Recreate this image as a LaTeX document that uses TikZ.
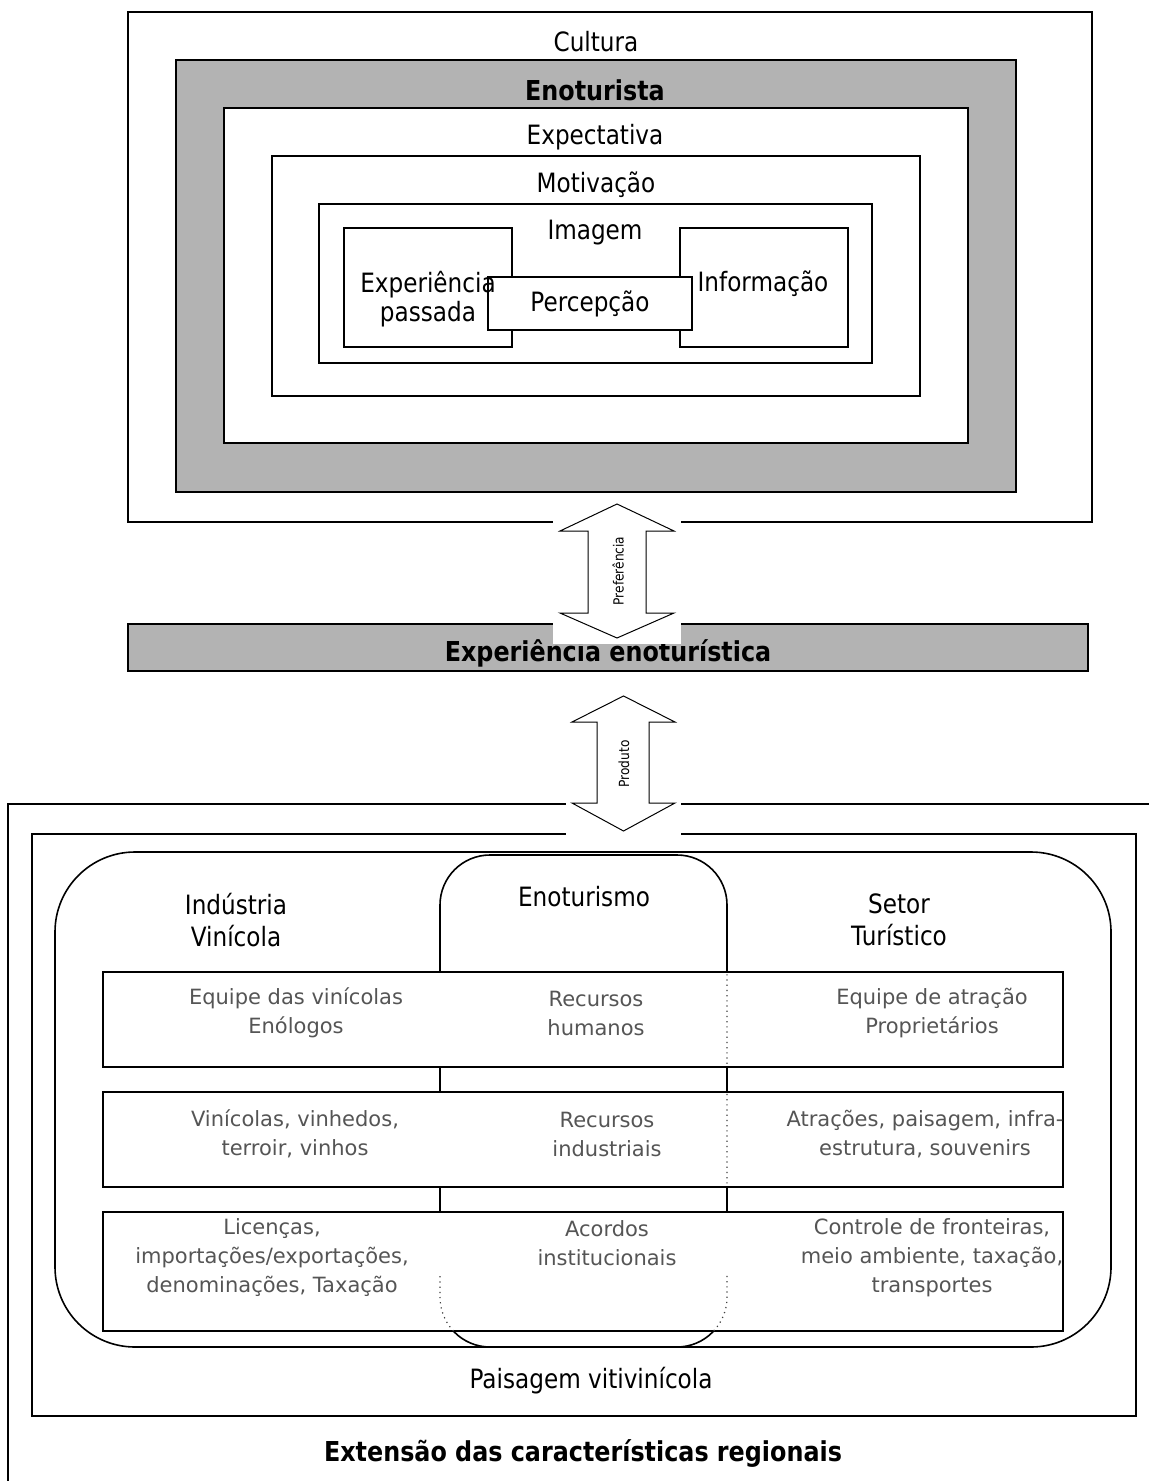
\documentclass[tikz,border=0pt]{standalone}
\usepackage{fontspec}
\setmainfont{DejaVu Sans}[FakeStretch=0.87]
\newfontfamily\rowfont{DejaVu Sans}
\usetikzlibrary{fit}
\definecolor{boxgray}{HTML}{B3B3B3}
\definecolor{rowtext}{HTML}{555555}
\tikzset{
 bx/.style={draw=black, line width=1pt, inner sep=0pt, outer sep=0pt},
 gbx/.style={bx, fill=boxgray},
 wbx/.style={bx, fill=white},
 rbx/.style={draw=black, line width=0.8pt, inner sep=0pt, outer sep=0pt},
 lbl/.style={inner sep=0pt, align=center, yshift=-1pt, font=\fontsize{13.3}{16}\selectfont},
 blbl/.style={inner sep=0pt, align=center, yshift=-1pt, font=\fontsize{13.7}{16}\selectfont\bfseries},
 rowtxt/.style={inner sep=0pt, align=center, text=rowtext, font=\rowfont\fontsize{10.5}{14.5}\selectfont},
 arr/.style={draw=black, line width=0.5pt, fill=white},
 arrtxt/.style={inner sep=0pt, font=\fontsize{7}{8}\selectfont, rotate=90},
 cover/.style={fill=white, draw=none, inner sep=0pt},
}
\begin{document}
\begin{tikzpicture}[x=0.5pt,y=-0.5pt]
\useasboundingbox (0,0) rectangle (1149,1481);
% ---------- upper nested boxes ----------
\node[wbx, fit={(128,12)(1092,522)}] (cultura) {};
\node[gbx, fit={(176,60)(1016,492)}] (enoturista) {};
\node[wbx, fit={(224,108)(968,443)}] (expectativa) {};
\node[wbx, fit={(272,156)(920,396)}] (motivacao) {};
\node[wbx, fit={(319,204)(872,363)}] (imagem) {};
\node[wbx, fit={(344,228)(512,347)}] (exppass) {};
\node[wbx, fit={(680,228)(848,347)}] (informacao) {};
\node[wbx, fit={(488,277)(692,330)}] (percepcao) {};
\node[lbl] (tcultura) at (596,40) {Cultura};
\node[blbl] (tenoturista) at (595,88) {Enoturista};
\node[lbl] (texpect) at (595,135) {Expectativa};
\node[lbl] (tmotiv) at (596,183) {Motivação};
\node[lbl] (timagem) at (595,231) {Imagem};
\node[lbl, font=\fontsize{13.3}{14.5}\selectfont] (texppass) at (428,297) {Experiência\\passada};
\node[lbl] (tinfo) at (763,282) {Informação};
\node[lbl] (tperc) at (590,302) {Percepção};
% ---------- middle bar ----------
\node[gbx, fit={(128,624)(1088,671)}] (expenot) {};
\node[blbl] (texpenot) at (608,651) {Experiência enoturística};
% ---------- lower frames ----------
\coordinate (ofr1) at (1149,804);
\coordinate (ofr2) at (8,804);
\coordinate (ofr3) at (8,1481);
\draw[line width=1pt] (ofr1) -- (ofr2) -- (ofr3);
\node[bx, fit={(32,834)(1136,1416)}] (paisagem) {};
\node[rbx, rounded corners=40pt, fit={(55,852)(1111,1347)}] (regiao) {};
\node[rbx, rounded corners=25pt, fit={(440,855)(727,1347)}] (enoturismo) {};
\node[wbx, fit={(103,972)(1063,1067)}] (row1) {};
\node[wbx, fit={(103,1092)(1063,1187)}] (row2) {};
\node[wbx, fit={(103,1212)(1063,1331)}] (row3) {};
\begin{scope}
 \clip (600,972) rectangle (740,1067) (600,1092) rectangle (740,1187) (430,1275) rectangle (740,1331);
 \draw[dotted, line width=0.6pt, draw=black!75] (enoturismo.north west) [rounded corners=25pt] -- (enoturismo.south west) -- (enoturismo.south east) -- (enoturismo.north east) [sharp corners]-- cycle;
\end{scope}
\node[lbl] (tindustria) at (236,918) {Indústria\\Vinícola};
\node[lbl] (tenoturismo) at (584,895) {Enoturismo};
\node[lbl] (tsetor) at (899,918) {Setor\\Turístico};
\node[lbl] (tpaisagem) at (591,1379) {Paisagem vitivinícola};
\node[blbl] (textensao) at (583,1451) {Extensão das características regionais};
% row texts
\node[rowtxt] (r1a) at (296,1013) {Equipe das vinícolas\\Enólogos};
\node[rowtxt] (r1b) at (596,1013) {Recursos\\humanos};
\node[rowtxt] (r1c) at (932,1013) {Equipe de atração\\Proprietários};
\node[rowtxt] (r2a) at (295,1134) {Vinícolas, vinhedos,\\terroir, vinhos};
\node[rowtxt] (r2b) at (607,1134) {Recursos\\industriais};
\node[rowtxt] (r2c) at (925,1134) {Atrações, paisagem, infra-\\estrutura, souvenirs};
\node[rowtxt] (r3a) at (272,1258) {Licenças,\\importações/exportações,\\denominações, Taxação};
\node[rowtxt] (r3b) at (607,1243) {Acordos\\institucionais};
\node[rowtxt] (r3c) at (932,1258) {Controle de fronteiras,\\meio ambiente, taxação,\\transportes};
% ---------- double arrows ----------
\node[cover, fit={(553,500)(681,644)}] (covpref) {};
\draw[arr] (617,504) -- (674,531) -- (646,531) -- (646,613) -- (674,613) -- (617,638)
 -- (560,613) -- (588,613) -- (588,531) -- (560,531) -- cycle;
\node[arrtxt] (tpref) at (618,571) {Preferência};
\node[cover, fit={(566,690)(681,837)}] (covprod) {};
\draw[arr] (623.5,696) -- (675,722) -- (649,722) -- (649,803) -- (675,803) -- (623.5,831)
 -- (572,803) -- (597,803) -- (597,722) -- (572,722) -- cycle;
\node[arrtxt] (tprod) at (624,764) {Produto};
\end{tikzpicture}
\end{document}
